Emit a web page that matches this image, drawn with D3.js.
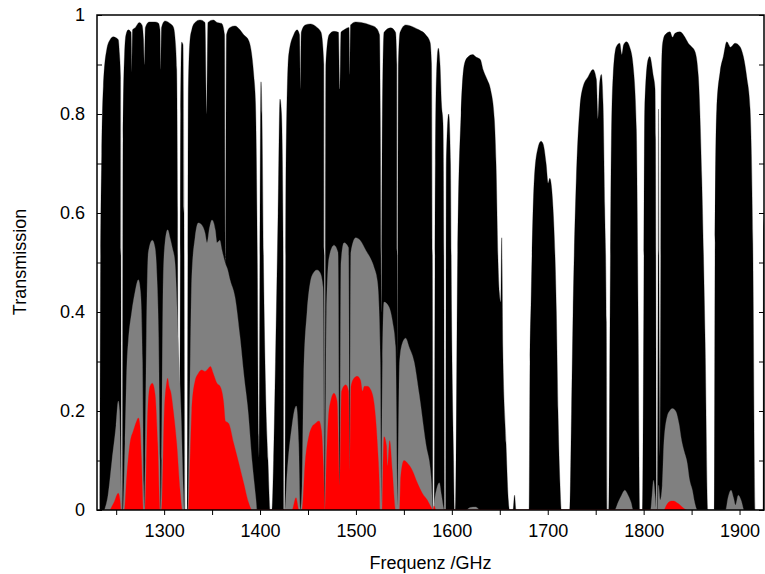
<!DOCTYPE html>
<html><head><meta charset="utf-8">
<script src="https://cdn.jsdelivr.net/npm/d3@7"></script>
<style>body{margin:0;background:#fff}svg{display:block}text{font-family:"Liberation Sans",Arial,Helvetica,sans-serif}</style>
</head><body><svg id="c" width="765" height="574"></svg>
<script>
// ---- data (frequency in GHz, transmission) ----
const blackFreq = [1232.9,1233.6,1234.9,1236.6,1240.1,1243.6,1247.0,1249.8,1252.2,1253.5,1254.5,1255.5,1256.4,1257.1,1258.7,1260.2,1262.6,1265.5,1266.3,1267.1,1270.1,1274.1,1276.9,1278.5,1279.4,1280.4,1284.5,1290.5,1293.9,1295.7,1296.4,1297.3,1300.9,1306.1,1309.6,1311.3,1313.1,1314.0,1314.8,1316.3,1317.2,1318.3,1319.7,1320.7,1321.8,1324.2,1325.2,1327.0,1328.8,1332.2,1337.4,1342.6,1344.4,1345.7,1351.3,1355.1,1360.0,1363.0,1364.0,1365.0,1368.7,1373.9,1379.1,1383.0,1387.8,1390.6,1393.4,1395.3,1397.2,1398.4,1399.2,1400.0,1401.0,1402.0,1403.6,1405.7,1408.3,1410.6,1412.3,1414.1,1416.1,1418.8,1420.8,1422.4,1424.0,1425.0,1426.0,1427.1,1429.9,1435.1,1438.6,1441.2,1442.0,1443.0,1447.2,1452.4,1459.4,1463.6,1466.5,1467.6,1468.6,1472.0,1477.1,1481.8,1483.1,1484.4,1487.6,1492.8,1493.5,1494.4,1499.8,1505.3,1510.2,1514.7,1520.6,1524.6,1525.4,1526.5,1527.5,1529.3,1536.3,1541.3,1542.6,1543.4,1544.2,1546.0,1551.9,1560.6,1565.8,1572.8,1577.3,1578.8,1579.7,1580.4,1581.7,1582.8,1584.0,1585.9,1587.7,1589.2,1590.8,1591.7,1592.4,1593.5,1594.2,1596.7,1598.6,1599.7,1601.8,1602.8,1603.8,1606.1,1609.6,1613.0,1616.6,1621.8,1625.2,1629.7,1632.5,1636.7,1640.3,1644.3,1646.1,1648.2,1649.5,1651.0,1652.0,1653.1,1656.5,1658.9,1660.2,1663.8,1665.4,1666.9,1680.5,1681.5,1682.6,1686.0,1689.6,1693.0,1695.1,1698.3,1700.4,1702.1,1705.5,1709.0,1710.7,1712.8,1714.2,1722.9,1724.8,1726.4,1729.8,1733.4,1736.8,1742.0,1747.2,1750.7,1752.4,1754.0,1755.9,1757.7,1759.4,1761.1,1762.1,1763.6,1765.0,1766.3,1768.1,1771.5,1775.1,1777.2,1779.1,1782.0,1785.5,1788.9,1792.4,1794.2,1795.9,1798.8,1800.1,1801.1,1804.6,1806.4,1809.8,1811.9,1812.4,1813.4,1814.5,1815.5,1816.3,1817.3,1818.3,1819.6,1822.3,1827.5,1830.1,1832.7,1837.9,1843.1,1846.6,1850.5,1853.6,1857.1,1860.6,1864.1,1866.9,1873.7,1874.5,1876.2,1879.7,1883.1,1886.7,1890.6,1895.3,1900.5,1904.0,1907.5,1911.0,1913.8,1916.2,1924.5,1925.0,1926.1];
const blackT = [0,0.45,0.72,0.855,0.93,0.95,0.956,0.954,0.95,0.92,0.875,0,0,0.75,0.92,0.96,0.97,0.965,0.88,0.97,0.975,0.985,0.98,0.95,0.9,0.975,0.986,0.986,0.984,0.97,0.89,0.975,0.988,0.983,0.976,0.955,0.89,0.6,0,0,0.8,0.945,0.94,0.6,0,0,0.85,0.95,0.97,0.985,0.99,0.985,0.8,0.985,0.99,0.985,0.983,0.96,0.5,0.96,0.975,0.978,0.97,0.96,0.95,0.93,0.88,0.82,0.5,0.15,0.1,0.6,0.865,0.8,0.5,0.25,0.1,0,0,0.1,0.3,0.6,0.83,0.8,0.55,0,0,0.7,0.92,0.96,0.97,0.96,0.85,0.965,0.98,0.982,0.975,0.965,0.9,0,0.9,0.96,0.967,0.965,0.85,0.965,0.97,0.975,0.88,0.98,0.986,0.985,0.983,0.98,0.975,0.96,0.8,0.4,0.8,0.965,0.974,0.965,0.9,0.3,0.9,0.965,0.98,0.975,0.97,0.96,0.945,0.9,0.5,0,0,0.7,0.88,0.933,0.9,0.82,0.78,0.5,0,0,0.7,0.8,0.7,0.4,0.1,0,0,0.52,0.8,0.9,0.915,0.92,0.915,0.91,0.89,0.87,0.85,0.79,0.7,0.5,0.44,0.42,0.55,0.33,0.135,0.02,0,0,0.03,0,0,0.3,0.42,0.67,0.73,0.745,0.74,0.7,0.66,0.67,0.61,0.4,0.2,0.05,0,0,0.2,0.4,0.67,0.81,0.855,0.875,0.89,0.87,0.79,0.86,0.88,0.82,0.61,0.38,0,0,0.4,0.74,0.875,0.936,0.943,0.92,0.94,0.946,0.935,0.9,0.77,0.4,0,0,0.4,0.81,0.91,0.916,0.88,0.85,0.75,0,0,0.81,0.3,0.1,0.85,0.94,0.96,0.966,0.955,0.963,0.966,0.955,0.943,0.935,0.926,0.875,0.67,0.34,0,0,0.54,0.81,0.885,0.916,0.946,0.935,0.943,0.936,0.916,0.875,0.81,0.54,0,0,0.57,0.6];

const grayFreq = [1237.8,1241.5,1245.6,1249.8,1252.2,1253.5,1254.7,1255.5,1257.1,1259.2,1261.3,1262.6,1266.2,1269.6,1273.1,1275.4,1277.4,1278.7,1279.4,1280.2,1281.6,1283.5,1287.7,1290.5,1292.3,1294.2,1295.7,1296.4,1297.4,1299.1,1300.9,1303.7,1306.1,1308.5,1311.3,1314.8,1317.6,1320.0,1321.0,1324.7,1326.5,1328.8,1332.2,1335.6,1339.2,1342.6,1344.7,1347.3,1349.9,1353.4,1355.1,1358.0,1360.3,1363.5,1366.3,1368.7,1373.9,1379.1,1383.3,1387.5,1391.6,1395.8,1396.8,1426.0,1428.1,1433.3,1435.7,1437.8,1440.3,1442.0,1443.8,1445.5,1449.0,1452.4,1456.0,1459.4,1462.5,1465.7,1467.6,1469.3,1472.0,1477.1,1481.3,1483.1,1484.4,1487.6,1492.3,1493.5,1494.7,1499.8,1504.3,1510.2,1514.7,1518.9,1522.5,1525.4,1526.5,1527.7,1529.3,1534.5,1538.2,1541.3,1543.4,1545.5,1548.1,1551.9,1555.3,1560.6,1565.8,1572.8,1578.3,1580.4,1581.9,1584.5,1586.9,1589.2,1592.2,1614.8,1619.0,1625.0,1629.4,1769.8,1773.3,1777.0,1780.3,1783.7,1786.9,1789.0,1807.2,1808.8,1810.3,1811.9,1813.4,1814.5,1815.5,1817.3,1819.4,1821.1,1824.7,1827.1,1829.9,1833.3,1836.8,1839.6,1842.0,1845.4,1848.0,1850.8,1853.2,1856.0,1885.4,1888.0,1891.1,1893.7,1895.8,1898.7,1901.5,1904.2];
const grayT = [0,0.03,0.1,0.17,0.22,0.2,0.08,0,0,0.135,0.3,0.34,0.4,0.44,0.465,0.44,0.3,0.05,0,0.1,0.36,0.52,0.545,0.53,0.48,0.35,0.1,0,0.1,0.47,0.54,0.566,0.55,0.53,0.5,0.34,0.2,0.04,0,0,0.2,0.47,0.55,0.58,0.576,0.56,0.54,0.57,0.586,0.565,0.54,0.545,0.525,0.5,0.485,0.465,0.43,0.35,0.27,0.2,0.1,0.02,0,0,0.07,0.17,0.2,0.21,0.135,0,0.05,0.27,0.4,0.46,0.48,0.485,0.48,0.45,0,0.4,0.51,0.535,0.52,0,0.5,0.54,0.53,0,0.52,0.55,0.545,0.525,0.51,0.49,0.46,0.3,0,0.3,0.42,0.41,0.38,0.33,0,0.3,0.335,0.347,0.33,0.3,0.236,0.135,0.067,0,0.02,0.045,0.055,0.03,0,0,0.005,0.006,0,0,0.015,0.03,0.04,0.03,0.015,0,0,0.03,0.06,0.03,0,0,0.05,0.02,0.05,0.135,0.19,0.2,0.205,0.2,0.175,0.14,0.12,0.095,0.06,0.04,0.015,0,0,0.025,0.04,0.025,0.01,0.03,0.02,0];

const redFreq = [1243.6,1247.7,1252.2,1254.0,1255.0,1258.5,1261.0,1264.4,1267.9,1271.4,1273.1,1274.8,1276.4,1278.3,1280.1,1282.9,1285.3,1287.7,1290.5,1293.3,1295.7,1297.4,1300.2,1302.5,1303.7,1305.1,1307.2,1309.6,1313.1,1316.6,1319.0,1325.2,1327.0,1328.8,1332.2,1335.6,1339.2,1342.6,1344.7,1348.2,1351.4,1355.1,1358.3,1362.1,1363.8,1367.3,1372.5,1377.8,1383.0,1388.2,1391.6,1433.3,1437.5,1440.6,1443.8,1447.2,1450.8,1454.2,1457.6,1461.5,1464.1,1466.2,1467.6,1469.3,1471.4,1473.7,1477.1,1480.3,1483.1,1485.0,1489.4,1492.3,1493.5,1494.9,1498.0,1501.4,1504.8,1506.8,1508.9,1511.9,1515.4,1518.9,1522.3,1524.4,1525.1,1527.2,1528.2,1529.3,1531.9,1532.9,1535.2,1537.9,1541.5,1545.5,1546.7,1550.1,1553.6,1558.8,1564.0,1569.2,1574.4,1578.3,1580.4,1581.4,1583.5,1821.1,1823.9,1826.3,1829.1,1831.5,1834.3,1836.8,1839.6,1842.0,1844.8];
const redT = [0,0.015,0.034,0.02,0,0,0.067,0.135,0.16,0.18,0.186,0.17,0.1,0,0,0.2,0.25,0.256,0.235,0.135,0,0,0.2,0.255,0.266,0.25,0.236,0.2,0.135,0.04,0,0,0.1,0.2,0.26,0.276,0.283,0.28,0.283,0.29,0.275,0.256,0.25,0.216,0.18,0.175,0.135,0.095,0.054,0.014,0,0,0.025,0,0,0.1,0.148,0.168,0.175,0.18,0.16,0.08,0,0.1,0.19,0.22,0.236,0.22,0.05,0.24,0.253,0.24,0.08,0.25,0.266,0.27,0.262,0.24,0.25,0.25,0.243,0.216,0.135,0.05,0,0,0.08,0.148,0.13,0.09,0.14,0.08,0,0,0.067,0.1,0.095,0.08,0.055,0.034,0.02,0.006,0,0.008,0,0,0.01,0.016,0.018,0.018,0.015,0.012,0.007,0.003,0];

const xMajorTicks = [1300,1400,1500,1600,1700,1800,1900];
const yMajorTicks = [0,0.2,0.4,0.6,0.8,1];
const xLabel = "Frequenz /GHz";
const yLabel = "Transmission";

// ---- drawing ----
const svg = d3.select("#c");
const L = 97, R = 764, T = 15, B = 510;
const x = d3.scaleLinear().domain([1230, 1925.5]).range([L, R]);
const y = d3.scaleLinear().domain([0, 1]).range([B, T]);

svg.append("defs").append("clipPath").attr("id","clip")
  .append("rect").attr("x",L).attr("y",T).attr("width",R-L).attr("height",B-T);

const area = d3.area().x(d=>x(d[0])).y0(y(0)).y1(d=>y(d[1])).curve(d3.curveMonotoneX);
const g = svg.append("g").attr("clip-path","url(#clip)");
function series(fr, tv, color){
  g.append("path").datum(d3.zip(fr, tv)).attr("d", area).attr("fill", color).attr("stroke", color).attr("stroke-width",0.3);
}
series(blackFreq, blackT, "#000000");
series(grayFreq, grayT, "#808080");
series(redFreq, redT, "#ff0000");

// axes
const xMinor = d3.range(1250, 1925, 50);
const bottom = svg.append("g").attr("transform",`translate(0,${B})`)
  .call(d3.axisBottom(x).tickValues(xMinor).tickSize(5).tickFormat(d => xMajorTicks.includes(d) ? d : ""));
bottom.select(".domain").remove();
bottom.selectAll("text").attr("font-size",18).attr("fill","#000").attr("dy","1.05em").attr("font-family","Liberation Sans, Arial, sans-serif");
bottom.selectAll("line").attr("stroke","#000").attr("stroke-width",1);

const yAll = d3.range(0, 1.0001, 0.1);
const left = svg.append("g").attr("transform",`translate(${L},0)`)
  .call(d3.axisLeft(y).tickValues(yAll).tickSize(-5).tickPadding(12)
    .tickFormat(d => yMajorTicks.some(v=>Math.abs(v-d)<1e-6) ? d3.format("~g")(+d.toFixed(1)) : ""));
left.select(".domain").remove();
left.selectAll("text").attr("font-size",18).attr("fill","#000").attr("font-family","Liberation Sans, Arial, sans-serif");
left.selectAll("line").attr("stroke","#000");

const right = svg.append("g").attr("transform",`translate(${R},0)`)
  .call(d3.axisRight(y).tickValues(yAll).tickSize(-5).tickFormat(""));
right.select(".domain").remove();
right.selectAll("line").attr("stroke","#000");

svg.append("rect").attr("x",L).attr("y",T).attr("width",R-L).attr("height",B-T)
  .attr("fill","none").attr("stroke","#000").attr("stroke-width",1.5);

svg.append("text").attr("x",(L+R)/2).attr("y",569).attr("text-anchor","middle")
  .attr("font-size",18).text(xLabel);
svg.append("text").attr("transform","translate(26,262) rotate(-90)").attr("text-anchor","middle")
  .attr("font-size",18).text(yLabel);
</script></body></html>
